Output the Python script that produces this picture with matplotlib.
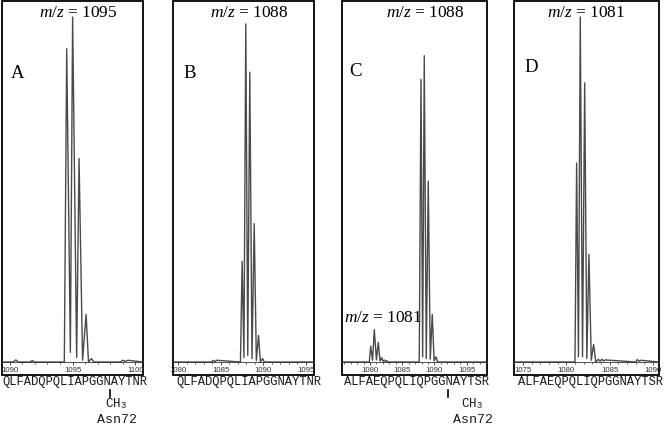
import matplotlib
matplotlib.use("Agg")
import matplotlib.pyplot as plt
from matplotlib.patches import Rectangle
from matplotlib.lines import Line2D
from matplotlib.ticker import MultipleLocator

plt.rcParams["mathtext.fontset"] = "custom"
plt.rcParams["mathtext.it"] = "Liberation Serif:italic"
plt.rcParams["mathtext.rm"] = "Liberation Serif"
plt.rcParams["mathtext.tt"] = "Liberation Mono"

# spectrum traces (m/z, relative intensity)
A_mz = [1089.4, 1090.3, 1090.5, 1090.7, 1091.6, 1091.8, 1092.0, 1094.35,
        1094.54, 1094.83, 1095.01, 1095.33, 1095.52, 1095.8, 1096.08,
        1096.27, 1096.5, 1096.7, 1098.8, 1099.0, 1099.2, 1099.4, 1100.6]
A_int = [0, 0, 0.6, 0, 0, 0.4, 0, 0,
         90.8, 2.8, 100, 1.3, 59, 0.5, 13.8,
         0, 1.0, 0, 0, 0.5, 0.2, 0.5, 0]

B_mz = [1079.37, 1083.9, 1084.1, 1084.3, 1084.5, 1087.3,
        1087.50, 1087.71, 1087.93, 1088.16, 1088.40, 1088.66, 1088.92,
        1089.17, 1089.43, 1089.65, 1089.9, 1090.1, 1095.95]
B_int = [0, 0, 0.5, 0.1, 0.5, 0,
         29.2, 1.3, 98, 1.9, 84, 1.0, 40.1,
         0.4, 7.7, 0, 1.0, 0, 0]

C_mz = [1075.66, 1079.9, 1080.11, 1080.4, 1080.67, 1081.0, 1081.29,
        1081.55, 1081.82, 1082.0, 1082.2, 1082.4, 1082.6, 1082.8, 1087.64,
        1087.91, 1088.17, 1088.42, 1088.73, 1089.04, 1089.35, 1089.66,
        1089.95, 1090.23, 1090.5, 1098.15]
C_int = [0, 0, 4.6, 0.5, 9.4, 0.6, 5.7,
         0.3, 1.3, 0.2, 0.6, 0.1, 0.4, 0, 0,
         81.9, 1.5, 88.8, 1.0, 52.4, 0.8, 13.8,
         0.3, 1.5, 0, 0]

D_mz = [1073.96, 1081.0, 1081.19, 1081.4, 1081.61, 1081.87, 1082.12,
        1082.37, 1082.61, 1082.88, 1083.15, 1083.4, 1083.7, 1083.9, 1084.1,
        1084.3, 1084.5, 1088.0, 1088.2, 1088.4, 1088.6, 1090.7]
D_int = [0, 0, 57.7, 1.5, 100, 1.5, 80.9,
         1.0, 31.2, 0.5, 5.1, 0, 0.8, 0.2, 0.8,
         0.3, 0.6, 0, 0.7, 0.2, 0.5, 0]

panel_letters = ["A", "B", "C", "D"]
panel_titles = ["1095", "1088", "1088", "1081"]
x_limits = [(1089.4, 1100.6), (1079.37, 1095.95), (1075.66, 1098.15), (1073.96, 1090.7)]
sequences = ["QLFADQPQLIAPGGNAYTNR", "QLFADQPQLIAPGGNAYTNR",
             "ALFAEQPQLIQPGGNAYTSR", "ALFAEQPQLIQPGGNAYTSR"]
traces = [(A_mz, A_int), (B_mz, B_int), (C_mz, C_int), (D_mz, D_int)]

W, H = 664, 434
fig = plt.figure(figsize=(W / 100, H / 100), dpi=100)


def fx(x):
    return x / W


def fy(y):
    return 1 - y / H


# pixel layout of the four boxes
box_x = [(2, 143), (173, 314), (342, 487), (514, 659)]
box_top, box_bot, base_px = 1, 375, 362
px_per_unit = 3.45
title_x = [78, 249, 425, 586]
letter_x = [18, 190, 355, 531]
letter_y = [74, 74, 72, 67]
seq_x = [75, 249, 416, 590]

for i in range(4):
    x0, x1 = box_x[i]
    ax = fig.add_axes([fx(x0), fy(box_bot), (x1 - x0) / W, (box_bot - box_top) / H])
    ax.patch.set_alpha(0)
    mz, inten = traces[i]
    ax.plot(mz, inten, color="#4a4a4a", lw=1.0)
    ax.set_xlim(*x_limits[i])
    ax.set_ylim(-(box_bot - base_px) / px_per_unit, (base_px - box_top) / px_per_unit)
    for s in ["top", "left", "right"]:
        ax.spines[s].set_visible(False)
    ax.spines["bottom"].set_position(("data", 0))
    ax.spines["bottom"].set_linewidth(0.6)
    ax.spines["bottom"].set_color("#333333")
    ax.add_patch(Rectangle((0, 0), 1, 1, transform=ax.transAxes, fill=False,
                           lw=1.3, ec="black", clip_on=False))
    ax.set_yticks([])
    ax.xaxis.set_major_locator(MultipleLocator(5))
    ax.xaxis.set_minor_locator(MultipleLocator(1))
    ax.tick_params(axis="x", which="major", direction="out", length=2.5, width=0.6,
                   labelsize=5.6, pad=0.8, colors="#333333")
    ax.tick_params(axis="x", which="minor", direction="out", length=1.5, width=0.5,
                   colors="#333333")
    for lab in ax.get_xticklabels():
        lab.set_family("Liberation Sans")

    fig.text(fx(title_x[i]), fy(13), "$m/z$ = " + panel_titles[i], fontsize=12.5,
             family="Liberation Serif", ha="center", va="center")
    fig.text(fx(letter_x[i]), fy(letter_y[i]), panel_letters[i], fontsize=13.5,
             family="Liberation Serif", ha="center", va="center")
    fig.text(fx(seq_x[i]), fy(382), sequences[i], fontsize=8.7,
             family="Liberation Mono", ha="center", va="center", color="#1a1a1a")

# second label in panel C
fig.text(fx(383), fy(318), "$m/z$ = 1081", fontsize=12.5,
         family="Liberation Serif", ha="center", va="center")

# methylation marks under A and C
for bx, cx in [(110, 116), (448, 472)]:
    fig.add_artist(Line2D([fx(bx), fx(bx)], [fy(390), fy(397)], color="black", lw=1.2))
    fig.text(fx(cx), fy(404), r"CH$_{\mathtt{3}}$", fontsize=9,
             family="Liberation Mono", ha="center", va="center", color="#1a1a1a")
    fig.text(fx(cx + 1), fy(420), "Asn72", fontsize=9.5,
             family="Liberation Mono", ha="center", va="center", color="#1a1a1a")

fig.savefig("out.png", dpi=100)
